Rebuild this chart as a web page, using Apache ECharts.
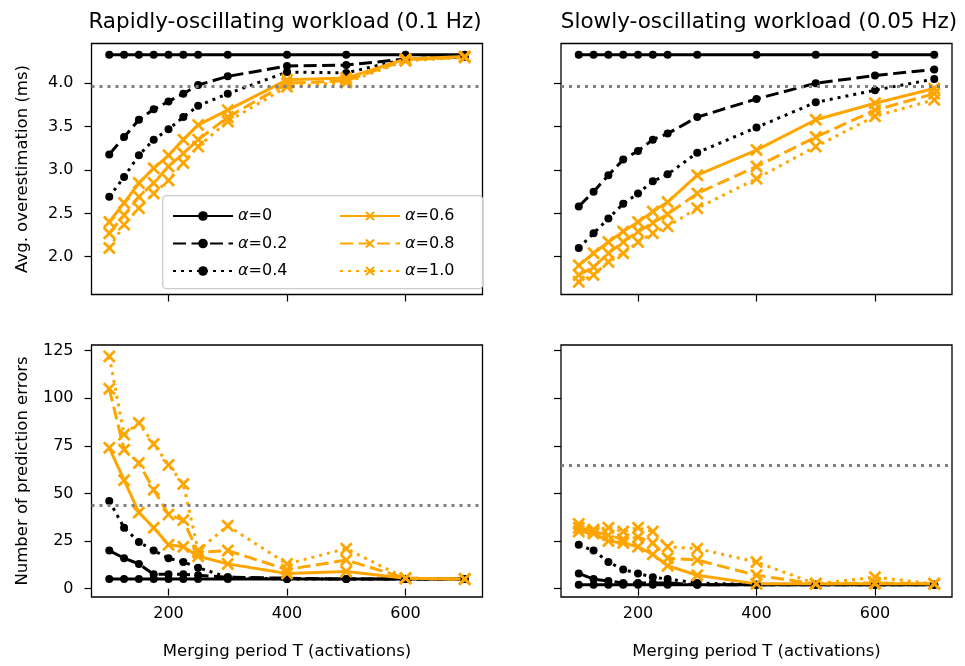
<!DOCTYPE html>
<html>
<head>
<meta charset="utf-8">
<script src="https://cdn.jsdelivr.net/npm/echarts@6/dist/echarts.min.js"></script>
<style>
  html, body { margin: 0; background: #fff; }
  #chart { width: 965px; height: 666px; }
</style>
</head>
<body>
<div id="chart"></div>
<script>
// merging period T (x values)
const periods = [100, 125, 150, 175, 200, 225, 250, 300, 400, 500, 600, 700]
const names = ['α=0', 'α=0.2', 'α=0.4', 'α=0.6', 'α=0.8', 'α=1.0']
const xTicks = [200, 400, 600]
const topTicks = [2.0, 2.5, 3.0, 3.5, 4.0]
const bottomTicks = [0, 25, 50, 75, 100, 125]

// 上左：Rapidly-oscillating, avg. overestimation
const rapidOver0 = [4.33, 4.33, 4.33, 4.33, 4.33, 4.33, 4.33, 4.33, 4.33, 4.33, 4.33, 4.33]
const rapidOver02 = [3.18, 3.38, 3.58, 3.70, 3.79, 3.88, 3.98, 4.08, 4.20, 4.21, 4.28, 4.31]
const rapidOver04 = [2.69, 2.92, 3.17, 3.35, 3.47, 3.61, 3.74, 3.88, 4.13, 4.12, 4.28, 4.31]
const rapidOver06 = [2.40, 2.62, 2.85, 3.02, 3.17, 3.35, 3.52, 3.69, 4.04, 4.06, 4.28, 4.31]
const rapidOver08 = [2.27, 2.48, 2.69, 2.85, 3.04, 3.19, 3.35, 3.61, 4.00, 4.03, 4.27, 4.30]
const rapidOver10 = [2.10, 2.37, 2.56, 2.73, 2.88, 3.08, 3.27, 3.56, 3.96, 4.01, 4.26, 4.30]

// 上右：Slowly-oscillating, avg. overestimation
const slowOver0 = [4.33, 4.33, 4.33, 4.33, 4.33, 4.33, 4.33, 4.33, 4.33, 4.33, 4.33, 4.33]
const slowOver02 = [2.58, 2.75, 2.94, 3.12, 3.22, 3.35, 3.42, 3.61, 3.82, 4.00, 4.09, 4.16]
const slowOver04 = [2.10, 2.27, 2.44, 2.61, 2.73, 2.87, 2.95, 3.20, 3.49, 3.78, 3.92, 4.05]
const slowOver06 = [1.90, 2.04, 2.17, 2.29, 2.40, 2.52, 2.63, 2.94, 3.23, 3.58, 3.77, 3.94]
const slowOver08 = [1.79, 1.88, 2.04, 2.17, 2.29, 2.39, 2.49, 2.73, 3.04, 3.38, 3.69, 3.88]
const slowOver10 = [1.71, 1.79, 1.94, 2.04, 2.17, 2.27, 2.35, 2.56, 2.90, 3.27, 3.62, 3.81]

// 下左：Rapidly-oscillating, prediction errors
const rapidErr0 = [5, 5, 5, 5, 5, 5, 5, 5, 5, 5, 5, 5]
const rapidErr02 = [20, 16, 13, 7.5, 7.5, 7.5, 7, 6, 5.5, 5, 5, 5]
const rapidErr04 = [46, 32, 24.5, 20, 16, 14, 11, 6, 5, 5, 5, 5]
const rapidErr06 = [74, 57, 40, 32, 23, 22, 17, 13, 8, 9, 5.5, 5]
const rapidErr08 = [105, 73, 66, 52, 39, 36, 19, 20, 10, 15, 5.5, 5]
const rapidErr10 = [122, 81, 87, 76, 65, 55, 20, 33, 13, 21, 5.5, 5]

// 下右：Slowly-oscillating, prediction errors
const slowErr0 = [2, 2, 2, 2, 2, 2, 2, 2, 2, 2, 2, 2]
const slowErr02 = [8, 5, 4, 3, 3, 3, 3, 2, 2, 2, 2, 2]
const slowErr04 = [23, 20, 14, 10, 8, 6, 5, 3, 2, 2, 2, 2]
const slowErr06 = [30, 29, 25, 24, 22, 18, 12, 7, 2.5, 2.5, 2.5, 2.5]
const slowErr08 = [32, 30, 28, 26, 27, 24, 16, 15, 7, 2.5, 3, 2.5]
const slowErr10 = [34, 31, 32, 30, 32, 30, 22, 21, 14, 2.5, 6, 2.5]

// 灰色虚线参考值
const refLines = [3.97, 3.97, 44, 65]

const panels = [
  [rapidOver0, rapidOver02, rapidOver04, rapidOver06, rapidOver08, rapidOver10],
  [slowOver0, slowOver02, slowOver04, slowOver06, slowOver08, slowOver10],
  [rapidErr0, rapidErr02, rapidErr04, rapidErr06, rapidErr08, rapidErr10],
  [slowErr0, slowErr02, slowErr04, slowErr06, slowErr08, slowErr10]
]

const font = 'DejaVu Sans'
const orange = '#FFA500'
// 叉号 marker（填充的X形）
const xMark = 'path://M0,1.5 L1.5,0 L5,3.5 L8.5,0 L10,1.5 L6.5,5 L10,8.5 L8.5,10 L5,6.5 L1.5,10 L0,8.5 L3.5,5 Z'
const dashes = ['solid', [13, 5.5], [3, 5]]

const grids = [
  { left: 91.5, top: 43.5, width: 391, height: 251 },
  { left: 561, top: 43.5, width: 391, height: 251 },
  { left: 91.5, top: 345, width: 391, height: 252 },
  { left: 561, top: 345, width: 391, height: 252 }
].map(g => ({ ...g, show: true, borderColor: '#000', borderWidth: 1.3 }))

const xAxis = grids.map((g, i) => ({
  type: 'value', gridIndex: i, min: 70, max: 730,
  axisLine: { show: false },
  splitLine: { show: false },
  axisTick: { show: true, length: 7, lineStyle: { color: '#000', width: 1.2 }, customValues: xTicks },
  axisLabel: { show: i >= 2, customValues: xTicks, margin: 9, color: '#000', fontSize: 16, fontFamily: font },
  name: i >= 2 ? 'Merging period T (activations)' : '',
  nameLocation: 'middle', nameGap: 46,
  nameTextStyle: { color: '#000', fontSize: 16.5, fontFamily: font }
}))

const yAxis = grids.map((g, i) => {
  const top = i < 2
  return {
    type: 'value', gridIndex: i,
    min: top ? 1.564 : -4.4,
    max: top ? 4.459 : 128,
    axisLine: { show: false },
    splitLine: { show: false },
    axisTick: { show: true, length: 7, lineStyle: { color: '#000', width: 1.2 }, customValues: top ? topTicks : bottomTicks },
    axisLabel: {
      show: i % 2 === 0, customValues: top ? topTicks : bottomTicks, margin: 18,
      color: '#000', fontSize: 16, fontFamily: font,
      formatter: v => top ? v.toFixed(1) : String(v)
    },
    name: i === 0 ? 'Avg. overestimation (ms)' : (i === 2 ? 'Number of prediction errors' : ''),
    nameLocation: 'middle', nameRotate: 90, nameGap: 60,
    nameTextStyle: { color: '#000', fontSize: 16.5, fontFamily: font }
  }
})

const series = []
panels.forEach((list, g) => {
  list.forEach((vals, k) => {
    const isBlack = k < 3
    const color = isBlack ? '#000' : orange
    const s = {
      type: 'line', name: names[k],
      xAxisIndex: g, yAxisIndex: g,
      data: periods.map((x, i) => [x, vals[i]]),
      symbol: isBlack ? 'circle' : xMark,
      symbolSize: isBlack ? 8 : 13,
      showAllSymbol: true,
      lineStyle: { color, width: 3, type: dashes[k % 3] },
      itemStyle: { color },
      emphasis: { disabled: true }
    }
    if (k === 0) {
      s.markLine = {
        silent: true, symbol: 'none', label: { show: false },
        lineStyle: { color: '#808080', type: [3, 5], width: 3 },
        data: [{ yAxis: refLines[g] }]
      }
    }
    series.push(s)
  })
})

const legendCommon = {
  orient: 'vertical', top: 203, itemWidth: 60, itemHeight: 12, itemGap: 11.5,
  formatter: n => '{i|α}' + n.slice(1),
  textStyle: {
    color: '#000', fontSize: 16, fontFamily: font,
    rich: { i: { fontStyle: 'italic', fontSize: 16, fontFamily: font, color: '#000' } }
  }
}

const myChart = echarts.init(document.getElementById('chart'))
myChart.setOption({
  animation: false,
  backgroundColor: '#fff',
  title: [
    { text: 'Rapidly-oscillating workload (0.1 Hz)', left: 280, top: 6, textAlign: 'center',
      textStyle: { fontSize: 21.5, fontWeight: 'normal', color: '#000', fontFamily: font } },
    { text: 'Slowly-oscillating workload (0.05 Hz)', left: 754, top: 6, textAlign: 'center',
      textStyle: { fontSize: 21.5, fontWeight: 'normal', color: '#000', fontFamily: font } }
  ],
  grid: grids,
  xAxis,
  yAxis,
  legend: [
    { ...legendCommon, data: names.slice(0, 3), left: 167 },
    { ...legendCommon, data: names.slice(3), left: 334 }
  ],
  graphic: [
    { type: 'rect', left: 162, top: 195, z: 3,
      shape: { width: 320, height: 93, r: 4 },
      style: { fill: 'rgba(255,255,255,0.8)', stroke: '#cccccc', lineWidth: 1.3 } }
  ],
  series
})
</script>
</body>
</html>
